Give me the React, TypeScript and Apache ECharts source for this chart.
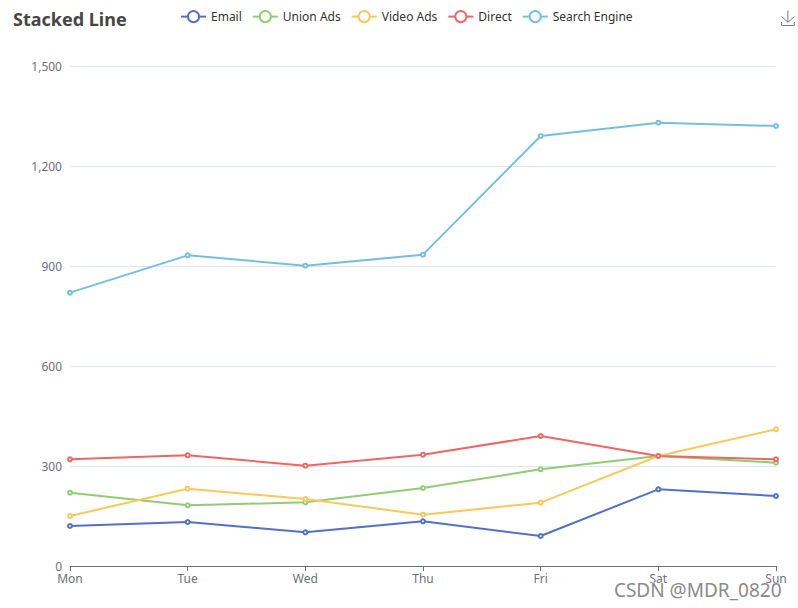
import React, { useEffect, useRef } from "react";
import * as echarts from "echarts";

const days = ["Mon", "Tue", "Wed", "Thu", "Fri", "Sat", "Sun"];
const email = [120, 132, 101, 134, 90, 230, 210];
const unionAds = [220, 182, 191, 234, 290, 330, 310];
const videoAds = [150, 232, 201, 154, 190, 330, 410];
const direct = [320, 332, 301, 334, 390, 330, 320];
const searchEngine = [820, 932, 901, 934, 1290, 1330, 1320];

const seriesDefs = [
  { name: "Email", data: email, color: "#5470c6" },
  { name: "Union Ads", data: unionAds, color: "#91cc75" },
  { name: "Video Ads", data: videoAds, color: "#fac858" },
  { name: "Direct", data: direct, color: "#ee6666" },
  { name: "Search Engine", data: searchEngine, color: "#73c0de" },
];

export default function App() {
  const ref = useRef<HTMLDivElement>(null);
  useEffect(() => {
    if (!ref.current) return;
    const chart = echarts.init(ref.current, undefined, { renderer: "svg" });
    const font = "'Noto Sans', 'Open Sans', sans-serif";
    chart.setOption({
      animation: false,
      textStyle: { fontFamily: font },
      color: seriesDefs.map((s) => s.color),
      title: {
        text: "Stacked Line",
        left: 8,
        top: 5,
        textStyle: { fontSize: 18, fontWeight: "bold", color: "#464646", fontFamily: font },
      },
      legend: {
        data: seriesDefs.map((s) => s.name),
        left: 175,
        top: 5,
        itemGap: 10,
        textStyle: { fontSize: 12, color: "#333", fontFamily: font },
      },
      toolbox: {
        right: -14,
        top: -7,
        feature: { saveAsImage: {} },
      },
      grid: { left: 70, right: 22, top: 66, bottom: 42, containLabel: false },
      xAxis: {
        type: "category",
        boundaryGap: false,
        data: days,
        axisLabel: { color: "#6e7079", fontSize: 12, margin: 6 },
        axisLine: { lineStyle: { color: "#6e7079" } },
      },
      yAxis: {
        type: "value",
        min: 0,
        max: 1500,
        interval: 300,
        axisLabel: { color: "#6e7079", fontSize: 12 },
        splitLine: { lineStyle: { color: "#e0e6f1" } },
      },
      series: seriesDefs.map((s) => ({
        name: s.name,
        type: "line",
        data: s.data,
        symbol: "emptyCircle",
        symbolSize: 4,
        lineStyle: { width: 2 },
      })),
      graphic: [
        {
          type: "text",
          right: 16,
          bottom: 8,
          z: 100,
          style: {
            text: "CSDN @MDR_0820",
            fontSize: 19,
            fontFamily: font,
            fill: "#8a8a8a",
            stroke: "#fff",
            lineWidth: 1,
          },
        },
      ],
    });
    return () => chart.dispose();
  }, []);
  return (
    <div
      ref={ref}
      style={{ position: "fixed", left: 0, top: 0, width: 798, height: 608, background: "#fff" }}
    />
  );
}
